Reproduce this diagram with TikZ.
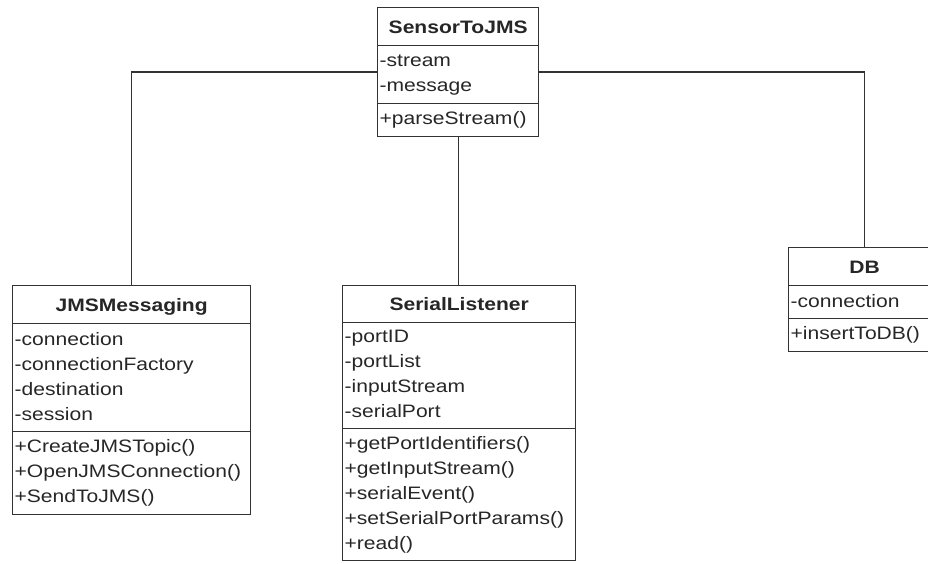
\documentclass[tikz,border=0pt]{standalone}
\usepackage{fontspec}
\setmainfont{Liberation Sans}[FakeStretch=1.17]
\usetikzlibrary{shapes.multipart}

\newcommand{\mrow}[1]{\strut#1}
\newcommand{\ctitle}[1]{\rule[-8pt]{0pt}{30pt}\hfill\textbf{#1}\hfill\null}

\begin{document}
\begin{tikzpicture}[x=1pt,y=-1pt,
  umlclass/.style={draw=black!80, line width=1.3pt, rectangle split,
    rectangle split parts=3, anchor=north west, inner xsep=2pt,
    inner ysep=3.3pt, align=left, text=black!85,
    font=\fontsize{18}{25}\selectfont},
  link/.style={draw=black!80, line width=1.3pt}]

\useasboundingbox (0,0) rectangle (928,564);

\node [umlclass, text width=157pt] (sensor) at (377,7) {\ctitle{SensorToJMS}
  \nodepart{two}\mrow{-stream}\\\mrow{-message}
  \nodepart{three}\mrow{+parseStream()}};

\node [umlclass, text width=234pt] (jms) at (12,285) {\ctitle{JMSMessaging}
  \nodepart{two}\mrow{-connection}\\\mrow{-connectionFactory}\\\mrow{-destination}\\\mrow{-session}
  \nodepart{three}\mrow{+CreateJMSTopic()}\\\mrow{+OpenJMSConnection()}\\\mrow{+SendToJMS()}};

\node [umlclass, text width=229pt, inner ysep=2.6pt] (serial) at (342,285) {\ctitle{SerialListener}
  \nodepart{two}\mrow{-portID}\\\mrow{-portList}\\\mrow{-inputStream}\\\mrow{-serialPort}
  \nodepart{three}\mrow{+getPortIdentifiers()}\\\mrow{+getInputStream()}\\\mrow{+serialEvent()}\\\mrow{+setSerialPortParams()}\\\mrow{+read()}};

\node [umlclass, text width=148pt] (db) at (788,247) {\ctitle{DB}
  \nodepart{two}\mrow{-connection}
  \nodepart{three}\mrow{+insertToDB()}};

\draw [link] (sensor.west) -| (jms.north);
\draw [link] (sensor.east) -| (db.north);
\draw [link] (sensor.south) -- (sensor.south |- serial.north);

\end{tikzpicture}
\end{document}
